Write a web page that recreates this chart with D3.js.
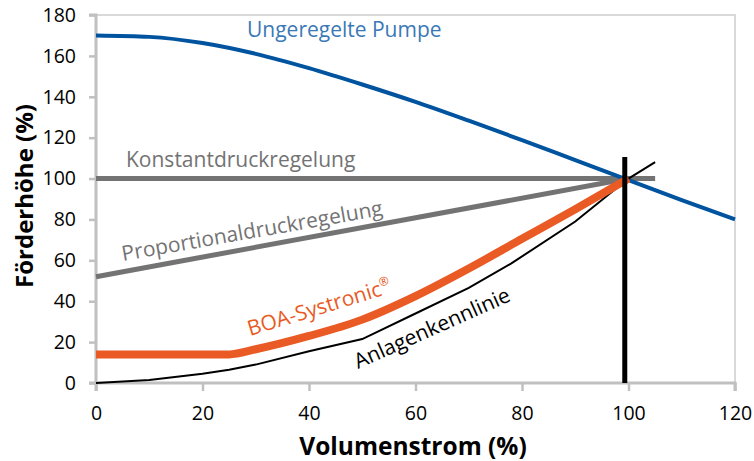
<!DOCTYPE html>
<html>
<head>
<meta charset="utf-8">
<script src="https://cdn.jsdelivr.net/npm/d3@7"></script>
<style>
body{margin:0;background:#fff;}
text{font-family:"Open Sans",sans-serif;}
</style>
</head>
<body>
<div id="chart"></div>
<script>
//data (x = Volumenstrom %, y = Förderhöhe %)
var x_ticks = [0,20,40,60,80,100,120]
var y_ticks = [0,20,40,60,80,100,120,140,160,180]

var pumpe_x = [0,10,20,30,40,50,60,70,80,90,100,110,120]
var pumpe_y = [170,169.3,166.3,161,154,146,137.5,128.3,118.8,109,99.2,89.5,80]

var konstant_x = [0,105]
var konstant_y = [100,100]

var proportional_x = [0,100]
var proportional_y = [52,100]

var boa_x = [0,25,30,40,50,60,70,80,90,100]
var boa_y = [14,14,16.5,23,31,42.5,56,70.5,85,100]

var anlage_x = [0,10,20,25,30,40,50,60,70,78,90,100,105]
var anlage_y = [0,1.5,4.5,6.5,9,15.5,21.5,34,46.5,58.5,79,100,108]

var operating_x = [99.3,99.3]
var operating_y = [0,110.5]

//initialization
var width = 754
var height = 461
var svg = d3.select("#chart").append("svg")
  .attr("width", width)
  .attr("height", height)

var x = d3.scaleLinear().domain([0,120]).range([96,735])
var y = d3.scaleLinear().domain([0,180]).range([383,15])

//light frame on top and right
svg.append("path")
  .attr("d", "M"+x(0)+","+y(180)+"H"+x(120)+"V"+y(0))
  .style("fill", "none")
  .style("stroke", "#d9d9d9")
  .style("stroke-width", 2)

//axes
var x_axis = svg.append("g")
  .attr("transform", "translate(0,"+y(0)+")")
  .call(d3.axisBottom(x).tickValues(x_ticks).tickSize(8).tickPadding(15))
var y_axis = svg.append("g")
  .attr("transform", "translate("+x(0)+",0)")
  .call(d3.axisLeft(y).tickValues(y_ticks).tickSize(7).tickPadding(13))

svg.selectAll(".domain").style("stroke", "#c0c0c0").style("stroke-width", 3)
svg.selectAll(".tick line").style("stroke", "#c0c0c0").style("stroke-width", 2.5)
svg.selectAll(".tick text")
  .style("font-family", "'Open Sans',sans-serif")
  .style("font-size", "19.5px")
  .style("fill", "#000")
x_axis.select(".domain").attr("d", "M"+x(0)+",8V0H"+x(120)+"V8")
y_axis.select(".domain").attr("d", "M-7,"+y(180)+"H0V"+y(0)+"H-7")

//axis titles
svg.append("text")
  .attr("x", 413).attr("y", 455)
  .attr("text-anchor", "middle")
  .style("font-weight", "bold")
  .style("font-size", "24.5px")
  .text("Volumenstrom (%)")
svg.append("text")
  .attr("transform", "translate(33,196) rotate(-90)")
  .attr("text-anchor", "middle")
  .style("font-weight", "bold")
  .style("font-size", "24px")
  .text("Förderhöhe (%)")

//function for drawing one curve
draw_curve = function(xs, ys, color, w, curve){
  var pts = xs.map(function(d, i){ return [d, ys[i]]; })
  var line = d3.line()
    .x(function(d){ return x(d[0]); })
    .y(function(d){ return y(d[1]); })
    .curve(curve)
  svg.append("path")
    .datum(pts)
    .attr("d", line)
    .style("fill", "none")
    .style("stroke", color)
    .style("stroke-width", w)
}

draw_curve(konstant_x, konstant_y, "#737373", 5, d3.curveLinear)
draw_curve(proportional_x, proportional_y, "#737373", 5, d3.curveLinear)
draw_curve(pumpe_x, pumpe_y, "#00549f", 4, d3.curveMonotoneX)
draw_curve(anlage_x, anlage_y, "#000000", 2, d3.curveLinear)
draw_curve(boa_x, boa_y, "#e95a24", 8, d3.curveMonotoneX)
draw_curve(operating_x, operating_y, "#000000", 5, d3.curveLinear)

//curve labels
var label = function(txt, px, py, angle, color){
  return svg.append("text")
    .attr("transform", "translate("+px+","+py+") rotate("+angle+")")
    .style("font-size", "21px")
    .style("fill", color)
    .text(txt)
}
label("Ungeregelte Pumpe", 247, 37, 0, "#3a78b6")
label("Konstantdruckregelung", 126, 167, 0, "#737373")
label("Proportionaldruckregelung", 123, 261, -10, "#737373")
var boa = label("BOA-Systronic", 250, 336, -17, "#e95a24")
boa.append("tspan").attr("dy", -9).style("font-size", "12px").text("®")
label("Anlagenkennlinie", 358, 369, -24, "#000000")
</script>
</body>
</html>
